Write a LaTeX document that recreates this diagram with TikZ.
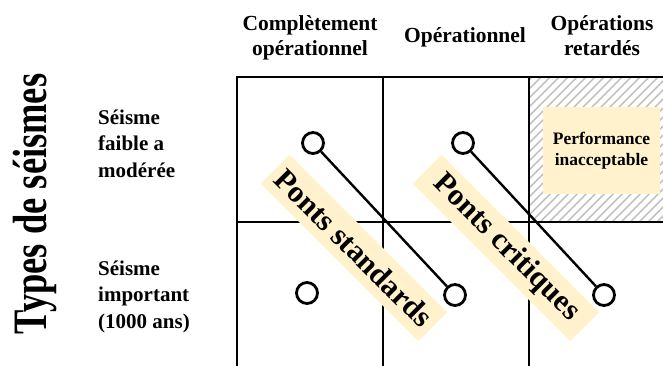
\documentclass[tikz,border=0pt]{standalone}
\usepackage{fontspec}
\setmainfont{Liberation Serif}
\definecolor{beige}{HTML}{FFF2CC}
\definecolor{hatch}{HTML}{BDBDBD}
\begin{document}
\begin{tikzpicture}[x=1pt,y=-1pt,
  gridline/.style={line width=2.6pt,line cap=rect},
  link/.style={line width=2.4pt},
  dot/.style={circle,draw,line width=2.8pt,fill=white,minimum size=21pt,inner sep=0pt},
  head/.style={font=\bfseries\fontsize{21.5}{25}\selectfont,align=center,inner sep=0pt},
  rowlab/.style={font=\bfseries\fontsize{21}{26.5}\selectfont,align=left,inner sep=0pt,anchor=base west},
  band/.style={fill=beige,rotate=-45,minimum width=223pt,minimum height=41pt,inner sep=0pt,font=\bfseries\fontsize{30.5}{30.5}\selectfont}]
\useasboundingbox (0,0) rectangle (663,365);
% hatched cell
\begin{scope}
  \clip (529,77) rectangle (663,222);
  \foreach \k in {0,...,32} {
    \draw[hatch,line width=1.4pt] ({529+\k*9-160},222) -- ({529+\k*9},62);
  }
\end{scope}
\node[fill=beige,minimum width=117pt,minimum height=87pt,inner sep=0pt,align=center,
      font=\bfseries\fontsize{17.5}{21}\selectfont] (perf) at (601.5,150.5) {Performance\\inacceptable};
% grid
\draw[gridline] (237,365) -- (237,77) -- (663,77);
\draw[gridline] (383,77) -- (383,365);
\draw[gridline] (529,77) -- (529,365);
\draw[gridline] (237,222) -- (663,222);
% headers (base anchor = last line)
\node[head,anchor=base] (h1) at (310,55) {Complètement\\opérationnel};
\node[head,anchor=base] (h2) at (465,42) {Opérationnel};
\node[head,anchor=base] (h3) at (602,55) {Opérations\\retardés};
% row labels
\node[rowlab] (r1) at (98,177) {Séisme\\faible a\\modérée};
\node[rowlab] (r2) at (98,328) {Séisme\\important\\(1000 ans)};
\node[rotate=90,anchor=base,inner sep=0pt,font=\bfseries\fontsize{48}{48}\selectfont] (ty) at (46,204) {\scalebox{0.76}[1]{Types de séismes}};
% circles
\node[dot] (s1) at (313,143) {};
\node[dot] (s2) at (455,295) {};
\node[dot] (s3) at (307,293) {};
\node[dot] (c1) at (463,143) {};
\node[dot] (c2) at (604,295) {};
\draw[link] (s1) -- (s2);
\draw[link] (c1) -- (c2);
% bands
\node[band] (ps) at (354,248) {Ponts standards};
\node[band] (pc) at (506,248) {Ponts critiques};
\end{tikzpicture}
\end{document}
